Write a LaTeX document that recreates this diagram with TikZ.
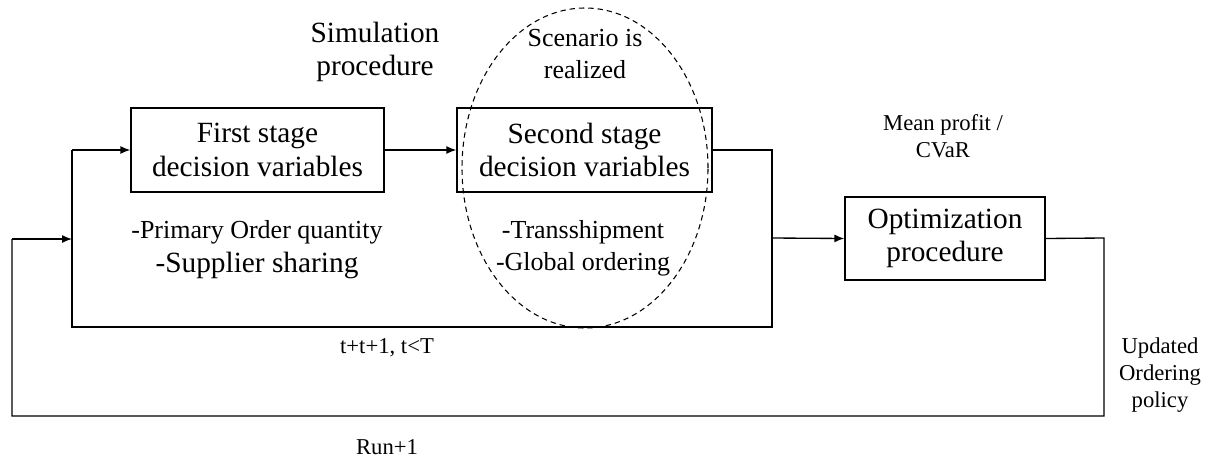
\documentclass[tikz,border=0pt]{standalone}
\usepackage{fontspec}
\setmainfont{Liberation Serif}
\usetikzlibrary{arrows.meta,shapes.geometric}
\newcommand\bigtext{\fontsize{22}{25}\selectfont}
\newcommand\midtext{\fontsize{19.5}{24}\selectfont}
\newcommand\smalltext{\fontsize{17}{20.5}\selectfont}
\begin{document}
\begin{tikzpicture}[x=0.75pt,y=-0.75pt,
  conn/.style={line width=1pt},
  arr/.style={line width=1pt,-{Latex[length=7.5pt,width=6pt]}},
  stagebox/.style={draw,line width=1pt,minimum height=63pt,inner sep=0pt,align=center,font=\bigtext},
  label/.style={align=center,inner sep=0pt},
]
\useasboundingbox (0,0) rectangle (1211,457);

% nodes
\node[label,font=\bigtext] (sim) at (375,52) {Simulation\\procedure};
\node[stagebox,minimum width=189.75pt] (first) at (257.5,150) {First stage\\decision variables};
\node[stagebox,minimum width=191.25pt] (second) at (584.5,150) {Second stage\\decision variables};
\node[draw,ellipse,dashed,dash pattern=on 4pt off 3pt,line width=0.8pt,minimum width=184.5pt,minimum height=240pt,inner sep=0pt] (scen) at (585,168) {};
\node[label,font=\midtext] (real) at (585,54) {Scenario is\\realized};
\node[stagebox,minimum width=150pt,minimum height=62.25pt] (opt) at (945,238.5) {Optimization\\procedure};
\node[label,font=\smalltext] (mean) at (943,136) {Mean profit /\\CVaR};
\node[label,font=\smalltext] (upd) at (1160,375) {Updated\\Ordering\\policy};
\node[label,font=\midtext] (prim) at (257,232) {-Primary Order quantity};
\node[label,font=\bigtext] (supp) at (257,265) {-Supplier sharing};
\node[label,font=\midtext] (trans) at (583,248) {-Transshipment\\-Global ordering};
\node[label,font=\smalltext] (tt) at (387,348) {t+t+1, t<T};
\node[label,font=\smalltext] (run) at (387,447) {Run+1};

% junction coordinates
\coordinate (j1) at (772,150);
\coordinate (j2) at (772,327);
\coordinate (j3) at (72,327);
\coordinate (j4) at (72,150);
\coordinate (jm) at (772,238);
\coordinate (k1) at (1104,238);
\coordinate (k2) at (1104,416);
\coordinate (k3) at (12,416);
\coordinate (k4) at (12,239);
\coordinate (k5) at (72,239);

% connectors
\draw[arr] (first.east) -- (second.west);
\draw[conn] (second.east) -- (j1) -- (j2) -- (j3) -- (j4);
\draw[arr] (j4) -- (first.west);
\draw[arr] (jm) -- (opt.west);
\draw[conn] (opt.east) -- (k1) -- (k2) -- (k3) -- (k4);
\draw[arr] (k4) -- (k5);
\end{tikzpicture}
\end{document}
